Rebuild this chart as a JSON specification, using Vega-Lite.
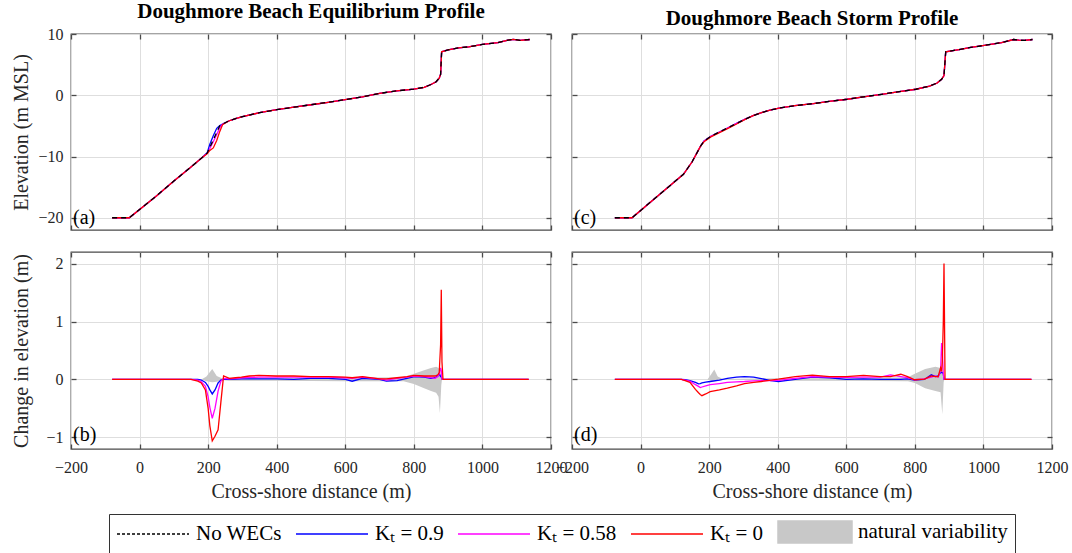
{
 "$schema": "https://vega.github.io/schema/vega-lite/v6.json",
 "background": "white",
 "padding": {"left": 10, "top": 0, "right": 5, "bottom": 5},
 "datasets": {
  "eqp": [
   {"x":-80,"b":-20,"k09":-20,"k058":-20,"k0":-20},
   {"x":-30,"b":-20,"k09":-20,"k058":-20,"k0":-20},
   {"x":50,"b":-16.4,"k09":-16.4,"k058":-16.4,"k0":-16.4},
   {"x":100,"b":-14.0,"k09":-14.0,"k058":-14.0,"k0":-14.0},
   {"x":150,"b":-11.7,"k09":-11.7,"k058":-11.7,"k0":-11.7},
   {"x":180,"b":-10.3,"k09":-10.3,"k058":-10.3,"k0":-10.3},
   {"x":197,"b":-9.46,"k09":-9.4,"k058":-9.5,"k0":-9.55},
   {"x":205,"b":-8.49,"k09":-8.0,"k058":-8.7,"k0":-9.0},
   {"x":215,"b":-7.28,"k09":-6.6,"k058":-7.6,"k0":-8.6},
   {"x":225,"b":-6.06,"k09":-5.4,"k058":-6.4,"k0":-7.4},
   {"x":234,"b":-4.97,"k09":-4.95,"k058":-5.3,"k0":-5.9},
   {"x":242,"b":-4.7,"k09":-4.7,"k058":-4.72,"k0":-4.8},
   {"x":260,"b":-4.2,"k09":-4.2,"k058":-4.2,"k0":-4.2},
   {"x":280,"b":-3.8,"k09":-3.8,"k058":-3.8,"k0":-3.8},
   {"x":300,"b":-3.5,"k09":-3.5,"k058":-3.5,"k0":-3.5},
   {"x":350,"b":-2.85,"k09":-2.85,"k058":-2.85,"k0":-2.85},
   {"x":400,"b":-2.35,"k09":-2.35,"k058":-2.35,"k0":-2.35},
   {"x":450,"b":-1.95,"k09":-1.95,"k058":-1.95,"k0":-1.95},
   {"x":500,"b":-1.55,"k09":-1.55,"k058":-1.55,"k0":-1.55},
   {"x":550,"b":-1.15,"k09":-1.15,"k058":-1.15,"k0":-1.15},
   {"x":600,"b":-0.7,"k09":-0.7,"k058":-0.7,"k0":-0.7},
   {"x":650,"b":-0.25,"k09":-0.25,"k058":-0.25,"k0":-0.25},
   {"x":700,"b":0.3,"k09":0.3,"k058":0.3,"k0":0.3},
   {"x":750,"b":0.72,"k09":0.72,"k058":0.72,"k0":0.72},
   {"x":800,"b":1.0,"k09":1.0,"k058":1.0,"k0":1.0},
   {"x":830,"b":1.3,"k09":1.3,"k058":1.3,"k0":1.3},
   {"x":850,"b":1.75,"k09":1.75,"k058":1.75,"k0":1.75},
   {"x":865,"b":2.2,"k09":2.2,"k058":2.2,"k0":2.2},
   {"x":874,"b":2.8,"k09":2.8,"k058":2.8,"k0":2.8},
   {"x":878,"b":3.4,"k09":3.4,"k058":3.4,"k0":3.4},
   {"x":881,"b":7.1,"k09":7.1,"k058":7.1,"k0":7.1},
   {"x":900,"b":7.4,"k09":7.4,"k058":7.4,"k0":7.4},
   {"x":930,"b":7.75,"k09":7.75,"k058":7.75,"k0":7.75},
   {"x":960,"b":7.9,"k09":7.9,"k058":7.9,"k0":7.9},
   {"x":1000,"b":8.3,"k09":8.3,"k058":8.3,"k0":8.3},
   {"x":1045,"b":8.6,"k09":8.6,"k058":8.6,"k0":8.6},
   {"x":1075,"b":9.0,"k09":9.0,"k058":9.0,"k0":9.0},
   {"x":1090,"b":9.13,"k09":9.13,"k058":9.13,"k0":9.13},
   {"x":1110,"b":8.97,"k09":8.97,"k058":8.97,"k0":8.97},
   {"x":1138,"b":9.1,"k09":9.1,"k058":9.1,"k0":9.1}
  ],
  "stp": [
   {"x":-75,"b":-20,"k09":-20,"k058":-20,"k0":-20},
   {"x":-25,"b":-20,"k09":-20,"k058":-20,"k0":-20},
   {"x":50,"b":-16.45,"k09":-16.45,"k058":-16.45,"k0":-16.45},
   {"x":125,"b":-12.9,"k09":-12.9,"k058":-12.9,"k0":-12.9},
   {"x":150,"b":-10.9,"k09":-10.9,"k058":-10.9,"k0":-10.9},
   {"x":175,"b":-8.3,"k09":-8.3,"k058":-8.3,"k0":-8.3},
   {"x":185,"b":-7.5,"k09":-7.45,"k058":-7.5,"k0":-7.6},
   {"x":205,"b":-6.7,"k09":-6.7,"k058":-6.7,"k0":-6.8},
   {"x":230,"b":-6.0,"k09":-6.0,"k058":-6.0,"k0":-6.1},
   {"x":255,"b":-5.3,"k09":-5.3,"k058":-5.3,"k0":-5.4},
   {"x":280,"b":-4.6,"k09":-4.6,"k058":-4.6,"k0":-4.7},
   {"x":305,"b":-3.9,"k09":-3.9,"k058":-3.9,"k0":-3.95},
   {"x":330,"b":-3.3,"k09":-3.3,"k058":-3.3,"k0":-3.3},
   {"x":355,"b":-2.8,"k09":-2.8,"k058":-2.8,"k0":-2.8},
   {"x":380,"b":-2.4,"k09":-2.4,"k058":-2.4,"k0":-2.4},
   {"x":404,"b":-2.1,"k09":-2.1,"k058":-2.1,"k0":-2.1},
   {"x":450,"b":-1.7,"k09":-1.7,"k058":-1.7,"k0":-1.7},
   {"x":504,"b":-1.36,"k09":-1.36,"k058":-1.36,"k0":-1.36},
   {"x":550,"b":-1.0,"k09":-1.0,"k058":-1.0,"k0":-1.0},
   {"x":603,"b":-0.65,"k09":-0.65,"k058":-0.65,"k0":-0.65},
   {"x":650,"b":-0.25,"k09":-0.25,"k058":-0.25,"k0":-0.25},
   {"x":703,"b":0.16,"k09":0.16,"k058":0.16,"k0":0.16},
   {"x":750,"b":0.55,"k09":0.55,"k058":0.55,"k0":0.55},
   {"x":803,"b":0.98,"k09":0.98,"k058":0.98,"k0":0.98},
   {"x":843,"b":1.5,"k09":1.5,"k058":1.5,"k0":1.5},
   {"x":865,"b":2.0,"k09":2.0,"k058":2.0,"k0":2.0},
   {"x":878,"b":2.6,"k09":2.6,"k058":2.6,"k0":2.6},
   {"x":885,"b":3.2,"k09":3.2,"k058":3.2,"k0":3.2},
   {"x":890,"b":7.1,"k09":7.1,"k058":7.1,"k0":7.1},
   {"x":933,"b":7.5,"k09":7.5,"k058":7.5,"k0":7.5},
   {"x":963,"b":7.8,"k09":7.8,"k058":7.8,"k0":7.8},
   {"x":1003,"b":8.15,"k09":8.15,"k058":8.15,"k0":8.15},
   {"x":1053,"b":8.6,"k09":8.6,"k058":8.6,"k0":8.6},
   {"x":1088,"b":9.1,"k09":9.1,"k058":9.1,"k0":9.1},
   {"x":1103,"b":9.0,"k09":9.0,"k058":9.0,"k0":9.0},
   {"x":1120,"b":8.95,"k09":8.95,"k058":8.95,"k0":8.95},
   {"x":1143,"b":9.1,"k09":9.1,"k058":9.1,"k0":9.1}
  ],
  "eqc": [
   {"x":-80,"k09":0,"k058":0,"k0":0},
   {"x":100,"k09":0,"k058":0,"k0":0},
   {"x":150,"k09":0,"k058":0,"k0":0},
   {"x":170,"k09":0,"k058":-0.01,"k0":-0.03},
   {"x":180,"k09":-0.01,"k058":-0.04,"k0":-0.06},
   {"x":192,"k09":-0.05,"k058":-0.12,"k0":-0.18},
   {"x":200,"k09":-0.12,"k058":-0.3,"k0":-0.5},
   {"x":205,"k09":-0.18,"k058":-0.48,"k0":-0.8},
   {"x":212,"k09":-0.25,"k058":-0.67,"k0":-1.06},
   {"x":220,"k09":-0.18,"k058":-0.5,"k0":-0.98},
   {"x":229,"k09":-0.06,"k058":-0.2,"k0":-0.87},
   {"x":237,"k09":-0.01,"k058":-0.03,"k0":-0.4},
   {"x":245,"k09":0.0,"k058":0.02,"k0":0.06},
   {"x":262,"k09":0.0,"k058":0.01,"k0":0.02},
   {"x":280,"k09":0.005,"k058":0.02,"k0":0.03},
   {"x":297,"k09":0.01,"k058":0.03,"k0":0.04},
   {"x":320,"k09":0.01,"k058":0.035,"k0":0.06},
   {"x":348,"k09":0.01,"k058":0.04,"k0":0.07},
   {"x":398,"k09":0.01,"k058":0.04,"k0":0.06},
   {"x":450,"k09":0.0,"k058":0.04,"k0":0.06},
   {"x":499,"k09":0.02,"k058":0.04,"k0":0.05},
   {"x":550,"k09":0.02,"k058":0.04,"k0":0.05},
   {"x":600,"k09":0.0,"k058":0.03,"k0":0.04},
   {"x":620,"k09":-0.03,"k058":0.02,"k0":0.03},
   {"x":650,"k09":0.02,"k058":0.04,"k0":0.05},
   {"x":700,"k09":0.0,"k058":0.01,"k0":0.01},
   {"x":720,"k09":-0.03,"k058":-0.01,"k0":0.01},
   {"x":751,"k09":-0.02,"k058":0.02,"k0":0.03},
   {"x":780,"k09":0.02,"k058":0.04,"k0":0.05},
   {"x":801,"k09":0.05,"k058":0.06,"k0":0.07},
   {"x":830,"k09":0.04,"k058":0.05,"k0":0.06},
   {"x":850,"k09":0.02,"k058":0.03,"k0":0.06},
   {"x":862,"k09":0.03,"k058":0.02,"k0":0.06},
   {"x":870,"k09":0.06,"k058":0.05,"k0":0.08},
   {"x":874,"k09":0.1,"k058":0.1,"k0":0.12},
   {"x":878,"k09":0.05,"k058":0.2,"k0":0.6},
   {"x":880,"k09":0.05,"k058":0.15,"k0":1.55},
   {"x":882,"k09":0.0,"k058":0.0,"k0":0.3},
   {"x":885,"k09":0,"k058":0,"k0":0},
   {"x":1000,"k09":0,"k058":0,"k0":0},
   {"x":1135,"k09":0,"k058":0,"k0":0}
  ],
  "eqb": [
   {"x":180,"lo":0,"hi":0},
   {"x":195,"lo":-0.03,"hi":0.05},
   {"x":212,"lo":-0.05,"hi":0.18},
   {"x":225,"lo":-0.04,"hi":0.06},
   {"x":240,"lo":-0.01,"hi":0.02},
   {"x":260,"lo":-0.02,"hi":0.03},
   {"x":400,"lo":-0.02,"hi":0.02},
   {"x":600,"lo":-0.03,"hi":0.03},
   {"x":770,"lo":-0.03,"hi":0.04},
   {"x":800,"lo":-0.08,"hi":0.1},
   {"x":830,"lo":-0.15,"hi":0.16},
   {"x":850,"lo":-0.2,"hi":0.2},
   {"x":865,"lo":-0.23,"hi":0.22},
   {"x":872,"lo":-0.3,"hi":0.2},
   {"x":876,"lo":-0.58,"hi":0.15},
   {"x":880,"lo":-0.1,"hi":0.08},
   {"x":882,"lo":0,"hi":0}
  ],
  "stc": [
   {"x":-75,"k09":0,"k058":0,"k0":0},
   {"x":100,"k09":0,"k058":0,"k0":0},
   {"x":119,"k09":0,"k058":0,"k0":0},
   {"x":130,"k09":-0.005,"k058":-0.01,"k0":-0.02},
   {"x":144,"k09":-0.02,"k058":-0.03,"k0":-0.05},
   {"x":160,"k09":-0.05,"k058":-0.09,"k0":-0.17},
   {"x":169,"k09":-0.075,"k058":-0.12,"k0":-0.23},
   {"x":174,"k09":-0.07,"k058":-0.14,"k0":-0.26},
   {"x":179,"k09":-0.06,"k058":-0.13,"k0":-0.28},
   {"x":190,"k09":-0.045,"k058":-0.11,"k0":-0.25},
   {"x":203,"k09":-0.035,"k058":-0.09,"k0":-0.21},
   {"x":230,"k09":-0.01,"k058":-0.07,"k0":-0.18},
   {"x":253,"k09":0.02,"k058":-0.05,"k0":-0.15},
   {"x":280,"k09":0.04,"k058":-0.04,"k0":-0.11},
   {"x":303,"k09":0.05,"k058":-0.035,"k0":-0.07},
   {"x":330,"k09":0.04,"k058":-0.025,"k0":-0.05},
   {"x":352,"k09":0.015,"k058":-0.02,"k0":-0.035},
   {"x":380,"k09":-0.02,"k058":-0.02,"k0":-0.01},
   {"x":402,"k09":-0.035,"k058":-0.015,"k0":0.005},
   {"x":451,"k09":0.0,"k058":0.02,"k0":0.05},
   {"x":501,"k09":0.04,"k058":0.05,"k0":0.075},
   {"x":551,"k09":0.03,"k058":0.04,"k0":0.05},
   {"x":600,"k09":0.0,"k058":0.035,"k0":0.05},
   {"x":650,"k09":0.01,"k058":0.04,"k0":0.07},
   {"x":699,"k09":0.0,"k058":0.04,"k0":0.05},
   {"x":729,"k09":0.0,"k058":0.08,"k0":0.05},
   {"x":759,"k09":0.0,"k058":0.05,"k0":0.09},
   {"x":779,"k09":0.01,"k058":0.03,"k0":0.05},
   {"x":799,"k09":-0.01,"k058":-0.005,"k0":-0.005},
   {"x":828,"k09":0.0,"k058":0.01,"k0":0.005},
   {"x":848,"k09":0.08,"k058":0.04,"k0":0.06},
   {"x":860,"k09":0.05,"k058":0.06,"k0":0.05},
   {"x":868,"k09":0.06,"k058":0.04,"k0":0.05},
   {"x":875,"k09":0.12,"k058":0.15,"k0":0.2},
   {"x":878,"k09":0.12,"k058":0.63,"k0":0.14},
   {"x":880,"k09":0.12,"k058":0.5,"k0":0.3},
   {"x":883,"k09":0.1,"k058":0.1,"k0":1.0},
   {"x":885,"k09":0.0,"k058":0.0,"k0":2.0},
   {"x":888,"k09":0,"k058":0,"k0":0},
   {"x":1000,"k09":0,"k058":0,"k0":0},
   {"x":1140,"k09":0,"k058":0,"k0":0}
  ],
  "stb": [
   {"x":195,"lo":0,"hi":0},
   {"x":205,"lo":-0.02,"hi":0.08},
   {"x":215,"lo":-0.03,"hi":0.17},
   {"x":225,"lo":-0.02,"hi":0.05},
   {"x":240,"lo":0,"hi":0.01},
   {"x":400,"lo":-0.02,"hi":0.02},
   {"x":600,"lo":-0.02,"hi":0.02},
   {"x":780,"lo":-0.03,"hi":0.04},
   {"x":800,"lo":-0.06,"hi":0.1},
   {"x":830,"lo":-0.15,"hi":0.18},
   {"x":860,"lo":-0.2,"hi":0.22},
   {"x":875,"lo":-0.22,"hi":0.2},
   {"x":880,"lo":-0.6,"hi":0.15},
   {"x":884,"lo":-0.05,"hi":0.05},
   {"x":886,"lo":0,"hi":0}
  ]
 },
 "columns": 2,
 "spacing": {"row": 22, "column": 21},
 "bounds": "flush",
 "resolve": {"scale": {"color": "shared"}, "legend": {"color": "shared"}},
 "concat": [
  {
   "width": 480, "height": 196,
   "title": {"text": "Doughmore Beach Equilibrium Profile"},
   "resolve": {"axis": {"x": "independent", "y": "independent"}},
   "layer": [
    {"data": {"name": "eqp"}, "mark": {"type": "line", "strokeWidth": 1.3},
     "encoding": {
      "x": {"field": "x", "type": "quantitative", "scale": {"domain": [-200, 1200], "nice": false}, "axis": {"orient": "bottom", "title": null, "labels": false, "values": [-200, 0, 200, 400, 600, 800, 1000, 1200]}},
      "y": {"field": "k09", "type": "quantitative", "scale": {"domain": [-22, 10], "nice": false, "zero": false}, "axis": {"orient": "left", "title": "Elevation (m MSL)", "values": [-20, -10, 0, 10], "labelPadding": 13, "titlePadding": 2, "minExtent": 38, "maxExtent": 38}},
      "color": {"datum": "k09", "scale": {"domain": ["base", "k09", "k058", "k0", "nv"], "range": ["#000000", "#0000ff", "#ff00ff", "#ff0000", "#c8c8c8"]},
       "legend": {
        "orient": "none", "legendX": 38, "legendY": 480, "direction": "horizontal", "columns": 5, "title": null,
        "symbolSize": 400, "symbolOffset": 26, "labelOffset": 32, "symbolStrokeWidth": 1.5,
        "labelFont": "Liberation Serif", "labelFontSize": 21, "labelColor": "#000000", "labelLimit": 300,
        "columnPadding": 11, "padding": 7, "strokeColor": "#333333", "fillColor": "white",
        "labelExpr": "datum.value == 'base' ? 'No WECs' : datum.value == 'k09' ? 'Kₜ = 0.9' : datum.value == 'k058' ? 'Kₜ = 0.58' : datum.value == 'k0' ? 'Kₜ = 0' : 'natural variability'",
        "encode": {"symbols": {"update": {
         "shape": {"signal": "datum.value == 'nv' ? 'M-3.7,-1.1H3.7V1.1H-3.7Z' : 'M-3.6,0H3.6'"},
         "strokeDash": {"signal": "datum.value == 'base' ? [3,2] : []"},
         "fill": {"signal": "datum.value == 'nv' ? '#c8c8c8' : 'transparent'"},
         "stroke": {"signal": "datum.value == 'nv' ? 'transparent' : datum.value == 'base' ? '#000000' : datum.value == 'k09' ? '#0000ff' : datum.value == 'k058' ? '#ff00ff' : '#ff0000'"},
         "strokeWidth": {"value": 1.5},
         "opacity": {"value": 1}
        }}}
       }}
     }},
    {"data": {"name": "eqp"}, "mark": {"type": "line", "strokeWidth": 1.3},
     "encoding": {"x": {"field": "x", "type": "quantitative", "axis": null}, "y": {"field": "k058", "type": "quantitative", "axis": null}, "color": {"datum": "k058"}}},
    {"data": {"name": "eqp"}, "mark": {"type": "line", "strokeWidth": 1.3},
     "encoding": {"x": {"field": "x", "type": "quantitative", "axis": null}, "y": {"field": "k0", "type": "quantitative", "axis": null}, "color": {"datum": "k0"}}},
    {"data": {"name": "eqp"}, "mark": {"type": "line", "strokeWidth": 1.3, "strokeDash": [5, 4]},
     "encoding": {"x": {"field": "x", "type": "quantitative", "axis": {"orient": "top", "labels": false, "grid": false, "title": null, "values": [-200, 0, 200, 400, 600, 800, 1000, 1200]}}, "y": {"field": "b", "type": "quantitative", "axis": {"orient": "right", "labels": false, "grid": false, "title": null, "values": [-20, -10, 0, 10]}}, "color": {"datum": "base"}}},
    {"data": {"values": [{"x": -200, "y": -20, "t": "(a)"}]}, "mark": {"type": "text", "align": "left", "baseline": "middle", "dx": 2, "fontSize": 20, "font": "Liberation Serif", "color": "#000000"},
     "encoding": {"x": {"field": "x", "type": "quantitative", "axis": null}, "y": {"field": "y", "type": "quantitative", "axis": null}, "text": {"field": "t"}}}
   ]
  },
  {
   "width": 480, "height": 196,
   "title": {"text": "Doughmore Beach Storm Profile"},
   "resolve": {"axis": {"x": "independent", "y": "independent"}},
   "layer": [
    {"data": {"name": "stp"}, "mark": {"type": "line", "strokeWidth": 1.3},
     "encoding": {
      "x": {"field": "x", "type": "quantitative", "scale": {"domain": [-200, 1200], "nice": false}, "axis": {"orient": "bottom", "title": null, "labels": false, "values": [-200, 0, 200, 400, 600, 800, 1000, 1200]}},
      "y": {"field": "k09", "type": "quantitative", "scale": {"domain": [-22, 10], "nice": false, "zero": false}, "axis": {"orient": "left", "title": null, "labels": false, "values": [-20, -10, 0, 10]}},
      "color": {"datum": "k09"}}},
    {"data": {"name": "stp"}, "mark": {"type": "line", "strokeWidth": 1.3},
     "encoding": {"x": {"field": "x", "type": "quantitative", "axis": null}, "y": {"field": "k058", "type": "quantitative", "axis": null}, "color": {"datum": "k058"}}},
    {"data": {"name": "stp"}, "mark": {"type": "line", "strokeWidth": 1.3},
     "encoding": {"x": {"field": "x", "type": "quantitative", "axis": null}, "y": {"field": "k0", "type": "quantitative", "axis": null}, "color": {"datum": "k0"}}},
    {"data": {"name": "stp"}, "mark": {"type": "line", "strokeWidth": 1.3, "strokeDash": [5, 4]},
     "encoding": {"x": {"field": "x", "type": "quantitative", "axis": {"orient": "top", "labels": false, "grid": false, "title": null, "values": [-200, 0, 200, 400, 600, 800, 1000, 1200]}}, "y": {"field": "b", "type": "quantitative", "axis": {"orient": "right", "labels": false, "grid": false, "title": null, "values": [-20, -10, 0, 10]}}, "color": {"datum": "base"}}},
    {"data": {"values": [{"x": -200, "y": -20, "t": "(c)"}]}, "mark": {"type": "text", "align": "left", "baseline": "middle", "dx": 2, "fontSize": 20, "font": "Liberation Serif", "color": "#000000"},
     "encoding": {"x": {"field": "x", "type": "quantitative", "axis": null}, "y": {"field": "y", "type": "quantitative", "axis": null}, "text": {"field": "t"}}}
   ]
  },
  {
   "width": 480, "height": 197,
   "resolve": {"axis": {"x": "independent", "y": "independent"}},
   "layer": [
    {"data": {"name": "eqb"}, "mark": {"type": "area", "opacity": 1},
     "encoding": {
      "x": {"field": "x", "type": "quantitative", "scale": {"domain": [-200, 1200], "nice": false}, "axis": {"orient": "bottom", "title": "Cross-shore distance (m)", "format": "d", "values": [-200, 0, 200, 400, 600, 800, 1000, 1200], "labelPadding": 15, "titlePadding": 6}},
      "y": {"field": "lo", "type": "quantitative", "scale": {"domain": [-1.2, 2.2], "nice": false, "zero": false}, "axis": {"orient": "left", "title": "Change in elevation (m)", "format": "d", "values": [-1, 0, 1, 2], "labelPadding": 13, "titlePadding": 2, "minExtent": 38, "maxExtent": 38}},
      "y2": {"field": "hi"},
      "color": {"datum": "nv"}}},
    {"data": {"name": "eqc"}, "mark": {"type": "line", "strokeWidth": 1.3},
     "encoding": {"x": {"field": "x", "type": "quantitative", "axis": {"orient": "top", "labels": false, "grid": false, "title": null, "values": [-200, 0, 200, 400, 600, 800, 1000, 1200]}}, "y": {"field": "k09", "type": "quantitative", "axis": {"orient": "right", "labels": false, "grid": false, "title": null, "values": [-1, 0, 1, 2]}}, "color": {"datum": "k09"}}},
    {"data": {"name": "eqc"}, "mark": {"type": "line", "strokeWidth": 1.3},
     "encoding": {"x": {"field": "x", "type": "quantitative", "axis": null}, "y": {"field": "k058", "type": "quantitative", "axis": null}, "color": {"datum": "k058"}}},
    {"data": {"name": "eqc"}, "mark": {"type": "line", "strokeWidth": 1.3},
     "encoding": {"x": {"field": "x", "type": "quantitative", "axis": null}, "y": {"field": "k0", "type": "quantitative", "axis": null}, "color": {"datum": "k0"}}},
    {"data": {"values": [{"x": -200, "y": -0.95, "t": "(b)"}]}, "mark": {"type": "text", "align": "left", "baseline": "middle", "dx": 2, "fontSize": 20, "font": "Liberation Serif", "color": "#000000"},
     "encoding": {"x": {"field": "x", "type": "quantitative", "axis": null}, "y": {"field": "y", "type": "quantitative", "axis": null}, "text": {"field": "t"}}}
   ]
  },
  {
   "width": 480, "height": 197,
   "resolve": {"axis": {"x": "independent", "y": "independent"}},
   "layer": [
    {"data": {"name": "stb"}, "mark": {"type": "area", "opacity": 1},
     "encoding": {
      "x": {"field": "x", "type": "quantitative", "scale": {"domain": [-200, 1200], "nice": false}, "axis": {"orient": "bottom", "title": "Cross-shore distance (m)", "format": "d", "values": [-200, 0, 200, 400, 600, 800, 1000, 1200], "labelPadding": 15, "titlePadding": 6}},
      "y": {"field": "lo", "type": "quantitative", "scale": {"domain": [-1.2, 2.2], "nice": false, "zero": false}, "axis": {"orient": "left", "title": null, "labels": false, "values": [-1, 0, 1, 2]}},
      "y2": {"field": "hi"},
      "color": {"datum": "nv"}}},
    {"data": {"name": "stc"}, "mark": {"type": "line", "strokeWidth": 1.3},
     "encoding": {"x": {"field": "x", "type": "quantitative", "axis": {"orient": "top", "labels": false, "grid": false, "title": null, "values": [-200, 0, 200, 400, 600, 800, 1000, 1200]}}, "y": {"field": "k09", "type": "quantitative", "axis": {"orient": "right", "labels": false, "grid": false, "title": null, "values": [-1, 0, 1, 2]}}, "color": {"datum": "k09"}}},
    {"data": {"name": "stc"}, "mark": {"type": "line", "strokeWidth": 1.3},
     "encoding": {"x": {"field": "x", "type": "quantitative", "axis": null}, "y": {"field": "k058", "type": "quantitative", "axis": null}, "color": {"datum": "k058"}}},
    {"data": {"name": "stc"}, "mark": {"type": "line", "strokeWidth": 1.3},
     "encoding": {"x": {"field": "x", "type": "quantitative", "axis": null}, "y": {"field": "k0", "type": "quantitative", "axis": null}, "color": {"datum": "k0"}}},
    {"data": {"values": [{"x": -200, "y": -0.95, "t": "(d)"}]}, "mark": {"type": "text", "align": "left", "baseline": "middle", "dx": 2, "fontSize": 20, "font": "Liberation Serif", "color": "#000000"},
     "encoding": {"x": {"field": "x", "type": "quantitative", "axis": null}, "y": {"field": "y", "type": "quantitative", "axis": null}, "text": {"field": "t"}}}
   ]
  }
 ],
 "config": {
  "font": "Liberation Serif",
  "view": {"stroke": "#4a4a4a", "strokeWidth": 1.3},
  "title": {"font": "Liberation Serif", "fontSize": 21, "fontWeight": "bold", "color": "#000000", "offset": 4, "anchor": "middle"},
  "axis": {"labelFont": "Liberation Serif", "labelFontSize": 16, "labelColor": "#262626", "titleFont": "Liberation Serif", "titleFontSize": 20, "titleFontWeight": "normal", "titleColor": "#262626", "grid": true, "gridColor": "#dedede", "gridWidth": 1, "domain": false, "ticks": true, "tickColor": "#4a4a4a", "tickWidth": 1.3, "tickSize": -5, "labelFlush": false, "labelOverlap": false}
 }
}
